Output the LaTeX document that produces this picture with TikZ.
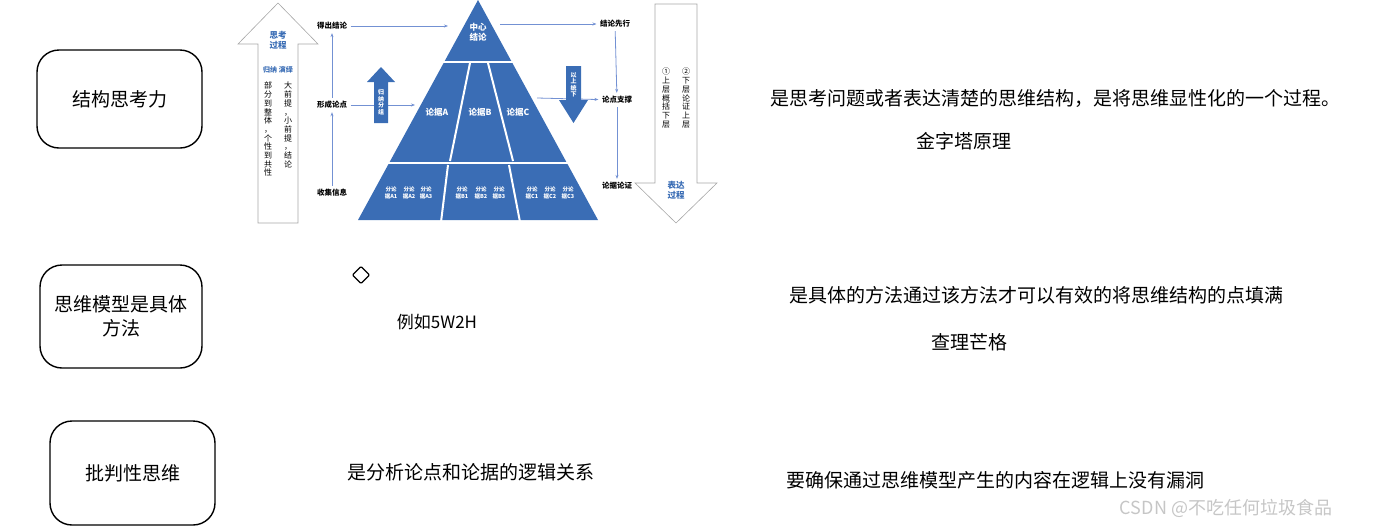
\documentclass[tikz,border=0pt]{standalone}
\usepackage{fontspec}
\setmainfont{Noto Sans CJK SC}
\usetikzlibrary{arrows.meta}
\definecolor{pblue}{HTML}{3A6DB5}
\definecolor{lblue}{HTML}{7391D3}
\begin{document}
\begin{tikzpicture}[x=1pt,y=-1pt,
  box/.style={draw=black,line width=1.4pt,rounded corners=22pt},
  big/.style={font=\fontsize{19}{24}\selectfont},
  lab/.style={font=\fontsize{7.5}{8}\selectfont\bfseries},
  tier/.style={font=\fontsize{8.5}{10}\selectfont\bfseries,text=white,align=center},
  sub/.style={font=\fontsize{5.5}{6.5}\selectfont\bfseries,text=white,align=center},
  vert/.style={font=\fontsize{8}{8.7}\selectfont,align=center,text width=9pt,inner sep=0pt},
  conn/.style={draw=lblue,line width=0.8pt,-{Stealth[length=4pt]}},
  bt/.style={font=\fontsize{8.5}{10}\selectfont\bfseries\itshape,text=pblue,align=center}]
\useasboundingbox (0,0) rectangle (1389,531);
% left boxes
\node[box,minimum width=165pt,minimum height=98pt,big] (b1) at (119.5,99) {结构思考力};
\node[box,minimum width=162pt,minimum height=103pt,big,align=center] (b2) at (121,316.5) {思维模型是具体\\方法};
\node[box,minimum width=165pt,minimum height=104pt,big] (b3) at (132.5,473) {批判性思维};
% pyramid
\fill[pblue] (478,0) -- (598,220) -- (358,220) -- cycle;
\draw[white,line width=2.5pt] (350,62) -- (610,62) (350,163) -- (610,163);
\draw[white,line width=2pt] (470,63) -- (450,161) (488,63) -- (513,161)
  (448,165) -- (441,222) (509,165) -- (520,222);
\node[tier] (c) at (478,32) {中心\\结论};
\node[tier] (pa) at (437,112) {论据A};
\node[tier] (pb) at (480,112) {论据B};
\node[tier] (pc) at (518,112) {论据C};
\foreach \x/\t in {391/A1,409/A2,426/A3,462/B1,481/B2,499/B3,532/C1,550/C2,568/C3}
  \node[sub] at (\x,193) {分论\\据\t};
% left think arrow
\draw[line width=0.6pt,draw=gray!70] (258,223) -- (258,44) -- (238,44) -- (278,3) -- (318,44) -- (298,44) -- (298,223) -- cycle;
\node[bt] (tk) at (278,40) {思考\\过程};
\node[font=\fontsize{7}{8}\selectfont\bfseries,text=pblue] (gy) at (278,70) {归纳\ 演绎};
\node[vert,anchor=north] (v1) at (268,82) {部\\分\\到\\整\\体\\，\\个\\性\\到\\共\\性};
\node[vert,anchor=north] (v2) at (288,82) {大\\前\\提\\，\\小\\前\\提\\，\\结\\论};
% right expression arrow
\draw[line width=0.6pt,draw=gray!70] (655,4) -- (697,4) -- (697,183) -- (717,183) -- (676,223) -- (635,183) -- (655,183) -- cycle;
\node[vert,anchor=north] (v3) at (666,68) {①\\上\\层\\概\\括\\下\\层};
\node[vert,anchor=north] (v4) at (686,68) {②\\下\\层\\论\\证\\上\\层};
\node[bt] (bd) at (676,190) {表达\\过程};
% labels
\node[lab] (l1) at (332,26) {得出结论};
\node[lab] (l2) at (332,105) {形成论点};
\node[lab] (l3) at (332,193) {收集信息};
\node[lab] (r1) at (615,24) {结论先行};
\node[lab] (r2) at (617,100) {论点支撑};
\node[lab] (r3) at (617,186) {论据论证};
\draw[conn] (l3) -- (l2);
\draw[conn] (l2) -- (l1);
\coordinate (ca) at (448,26);
\coordinate (aa) at (415,105);
\coordinate (cr) at (500,24);
\coordinate (pr) at (537,98);
\draw[conn] (l1) -- (ca);
\draw[conn] (l2) -- (aa);
\draw[conn] (cr) -- (r1);
\draw[conn] (pr) -- (r2);
\draw[conn] (r1) -- (r2);
\draw[conn] (r2) -- (r3);
% blue arrows
\fill[pblue] (374,123) -- (374,82) -- (367,82) -- (381,67) -- (395,82) -- (388,82) -- (388,123) -- cycle;
\node[vert,text=white,font=\fontsize{6}{6.5}\selectfont\bfseries] (gf) at (381,102) {归\\纳\\分\\组};
\fill[pblue] (566,66) -- (581,66) -- (581,100) -- (588,100) -- (573.5,123) -- (559,100) -- (566,100) -- cycle;
\node[vert,text=white,font=\fontsize{6}{6.5}\selectfont\bfseries] (ys) at (573.5,85) {以\\上\\统\\下};
% other
\node[draw=black,line width=1.3pt,rotate=45,minimum size=12pt,inner sep=0pt,rounded corners=1pt] (dm) at (361,275) {};
\node[font=\fontsize{17}{20}\selectfont] (eg) at (437,322) {例如5W2H};
\node[big] (t3) at (471,472) {是分析论点和论据的逻辑关系};
\node[big] (t1) at (1055,98) {是思考问题或者表达清楚的思维结构，是将思维显性化的一个过程。};
\node[big] (t1b) at (964,141) {金字塔原理};
\node[big] (t2) at (1036,295) {是具体的方法通过该方法才可以有效的将思维结构的点填满};
\node[big] (t2b) at (969,342) {查理芒格};
\node[big] (t4) at (995,480) {要确保通过思维模型产生的内容在逻辑上没有漏洞};
\node[font=\fontsize{18}{22}\selectfont,text=gray!45] (wm) at (1226,508) {CSDN @不吃任何垃圾食品};
\end{tikzpicture}
\end{document}
